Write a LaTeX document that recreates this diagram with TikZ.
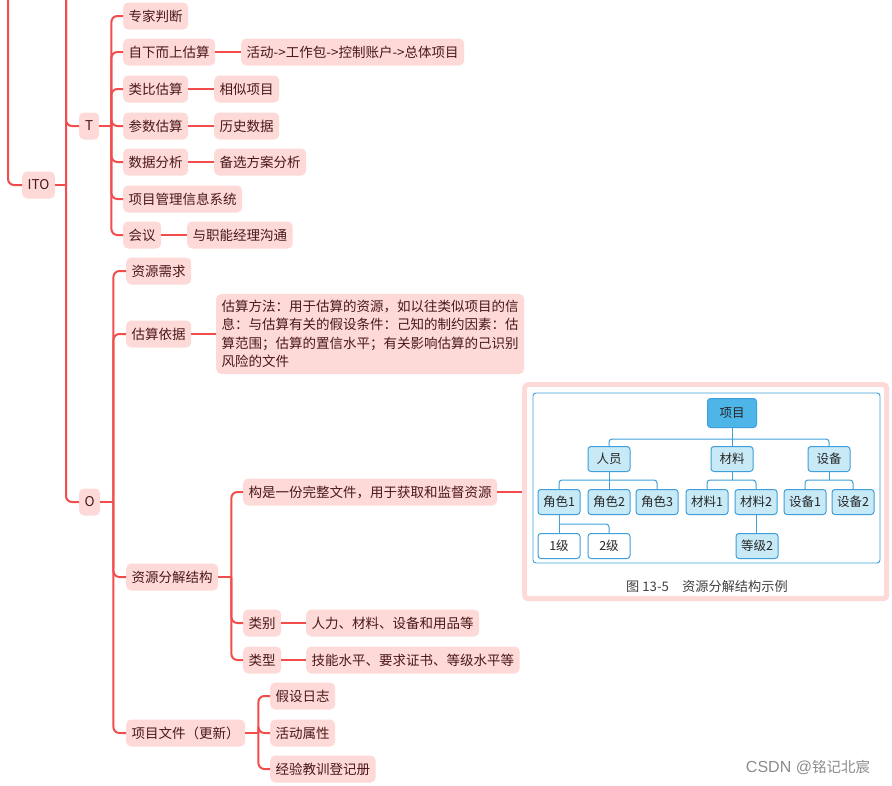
\documentclass[tikz,border=0pt]{standalone}
\usepackage{fontspec}
\setmainfont{Noto Sans CJK SC}
\newfontfamily\wmlatin{Liberation Sans}
\usetikzlibrary{calc}
\definecolor{linec}{HTML}{F24C4C}
\definecolor{boxc}{HTML}{FDD9D7}
\definecolor{txtc}{HTML}{4A1818}
\definecolor{bluel}{HTML}{3E9FDB}
\definecolor{bluef}{HTML}{C8EAF6}
\definecolor{blued}{HTML}{4DB5E8}
\begin{document}
\begin{tikzpicture}[x=1pt,y=-1pt,
 mm/.style={fill=boxc, rounded corners=5pt, inner xsep=5.5pt, inner ysep=0pt, minimum height=27pt, minimum width=20pt, text=txtc, font=\fontsize{13.5}{18.5}\selectfont, anchor=west},
 conn/.style={draw=linec, line width=2pt, rounded corners=6pt},
 bx/.style={draw=bluel, line width=1pt, fill=bluef, rounded corners=3pt, minimum width=42pt, minimum height=25pt, inner sep=0pt, font=\fontsize{12.5}{14}\selectfont, text=black!85},
 bl/.style={draw=bluel, line width=1pt, rounded corners=3pt}
]
\useasboundingbox (0,0) rectangle (892,785);
\fill[white] (0,0) rectangle (892,785);

% main nodes
\node[mm] (ITO) at (22,185) {ITO};
\node[mm] (T) at (79,126) {T};
\node[mm] (O) at (79,502) {O};

% T children
\node[mm] (t1) at (123,16) {专家判断};
\node[mm] (t2) at (123,52) {自下而上估算};
\node[mm] (t2a) at (241,52) {活动->工作包->控制账户->总体项目};
\node[mm] (t3) at (123,89) {类比估算};
\node[mm] (t3a) at (214,89) {相似项目};
\node[mm] (t4) at (123,126) {参数估算};
\node[mm] (t4a) at (214,126) {历史数据};
\node[mm] (t5) at (123,162) {数据分析};
\node[mm] (t5a) at (214,162) {备选方案分析};
\node[mm] (t6) at (123,199) {项目管理信息系统};
\node[mm] (t7) at (123,235) {会议};
\node[mm] (t7a) at (187,235) {与职能经理沟通};

% O children
\node[mm] (o1) at (126,271) {资源需求};
\node[mm] (o2) at (126,334) {估算依据};
\node[mm, align=left, inner ysep=6pt, minimum height=0pt] (o2a) at (216,334) {估算方法：用于估算的资源，如以往类似项目的信\\息：与估算有关的假设条件：己知的制约因素：估\\算范围；估算的置信水平；有关影响估算的己识别\\风险的文件};
\node[mm] (o3) at (126,577) {资源分解结构};
\node[mm] (o3a) at (243,492) {构是一份完整文件，用于获取和监督资源};
\node[mm] (o3b) at (243,623) {类别};
\node[mm] (o3b1) at (306,623) {人力、材料、设备和用品等};
\node[mm] (o3c) at (243,660) {类型};
\node[mm] (o3c1) at (306,660) {技能水平、要求证书、等级水平等};
\node[mm] (o4) at (126,733) {项目文件（更新）};
\node[mm] (o4a) at (270,696) {假设日志};
\node[mm] (o4b) at (270,733) {活动属性};
\node[mm] (o4c) at (270,769) {经验教训登记册};

% connectors: top level
\coordinate (a0) at (8,0);
\coordinate (b0) at (66,0);
\draw[conn] (a0) |- (ITO.west);
\draw[conn] (ITO.east) -- (ITO.east -| b0);
\draw[conn] (b0) |- (T.west);
\draw[conn] (b0) |- (O.west);

% T
\coordinate (tj) at ($(T.east)+(12,0)$);
\draw[conn] (T.east) -- (tj);
\foreach \c in {t1,t2,t3,t4,t5,t6,t7} \draw[conn] (tj) |- (\c.west);
\draw[conn] (t2.east) -- (t2a.west);
\draw[conn] (t3.east) -- (t3a.west);
\draw[conn] (t4.east) -- (t4a.west);
\draw[conn] (t5.east) -- (t5a.west);
\draw[conn] (t7.east) -- (t7a.west);

% O
\coordinate (oj) at ($(O.east)+(13,0)$);
\draw[conn] (O.east) -- (oj);
\foreach \c in {o1,o2,o3,o4} \draw[conn] (oj) |- (\c.west);
\draw[conn] (o2.east) -- (o2a.west);

\coordinate (o3j) at ($(o3.east)+(13,0)$);
\draw[conn] (o3.east) -- (o3j);
\foreach \c in {o3a,o3b,o3c} \draw[conn] (o3j) |- (\c.west);
\draw[conn] (o3b.east) -- (o3b1.west);
\draw[conn] (o3c.east) -- (o3c1.west);

\coordinate (o4j) at ($(o4.east)+(13,0)$);
\draw[conn] (o4.east) -- (o4j);
\foreach \c in {o4a,o4b,o4c} \draw[conn] (o4j) |- (\c.west);

% image node
\node[fill=boxc, rounded corners=6pt, minimum width=367pt, minimum height=219pt, inner sep=0pt, anchor=north west] (img) at (522,382) {};
\draw[conn] (o3a.east) -- (o3a.east -| img.west);
\fill[white, rounded corners=2pt] (527,387) rectangle (884,596);
\draw[bluel, line width=0.9pt, rounded corners=3pt] (533,393) rectangle (880,563);

\node[bx, fill=blued, minimum width=49pt, minimum height=29pt] (p) at (732,413) {项目};
\node[bx] (ry) at (609,459) {人员};
\node[bx] (cl) at (732,459) {材料};
\node[bx] (sb) at (829,459) {设备};
\node[bx] (j1) at (559,502) {角色1};
\node[bx] (j2) at (609,502) {角色2};
\node[bx] (j3) at (657,502) {角色3};
\node[bx] (m1) at (707,502) {材料1};
\node[bx] (m2) at (756,502) {材料2};
\node[bx] (s1) at (805,502) {设备1};
\node[bx] (s2) at (853,502) {设备2};
\node[bx, fill=white] (l1) at (559,546) {1级};
\node[bx, fill=white] (l2) at (609,546) {2级};
\node[bx] (g2) at (757,546) {等级2};

\coordinate (pj) at (732,439);
\draw[bl] (p.south) -- (pj);
\draw[bl] (pj) -| (ry.north);
\draw[bl] (pj) -| (sb.north);
\draw[bl] (pj) -- (cl.north);

\coordinate (rj) at (609,480);
\draw[bl] (ry.south) -- (rj);
\draw[bl] (rj) -| (j1.north);
\draw[bl] (rj) -| (j3.north);
\draw[bl] (rj) -- (j2.north);

\coordinate (mj) at (732,480);
\draw[bl] (cl.south) -- (mj);
\draw[bl] (mj) -| (m1.north);
\draw[bl] (mj) -| (m2.north);

\coordinate (sj) at (829,480);
\draw[bl] (sb.south) -- (sj);
\draw[bl] (sj) -| (s1.north);
\draw[bl] (sj) -| (s2.north);

\coordinate (jj) at (559,524);
\draw[bl] (j1.south) -- (jj);
\draw[bl] (jj) -| (l2.north);
\draw[bl] (jj) -- (l1.north);

\draw[bl] (m2.south) -- (m2.south |- g2.north);

\node[font=\fontsize{13.2}{15}\selectfont, text=black!75] (cap) at (707,586) {图 13-5\quad 资源分解结构示例};

\node[text=black!45, font=\fontsize{14.5}{16}\selectfont] (wm) at (808,767) {{\wmlatin\fontsize{16}{16}\selectfont CSDN @}铭记北宸};
\end{tikzpicture}
\end{document}
